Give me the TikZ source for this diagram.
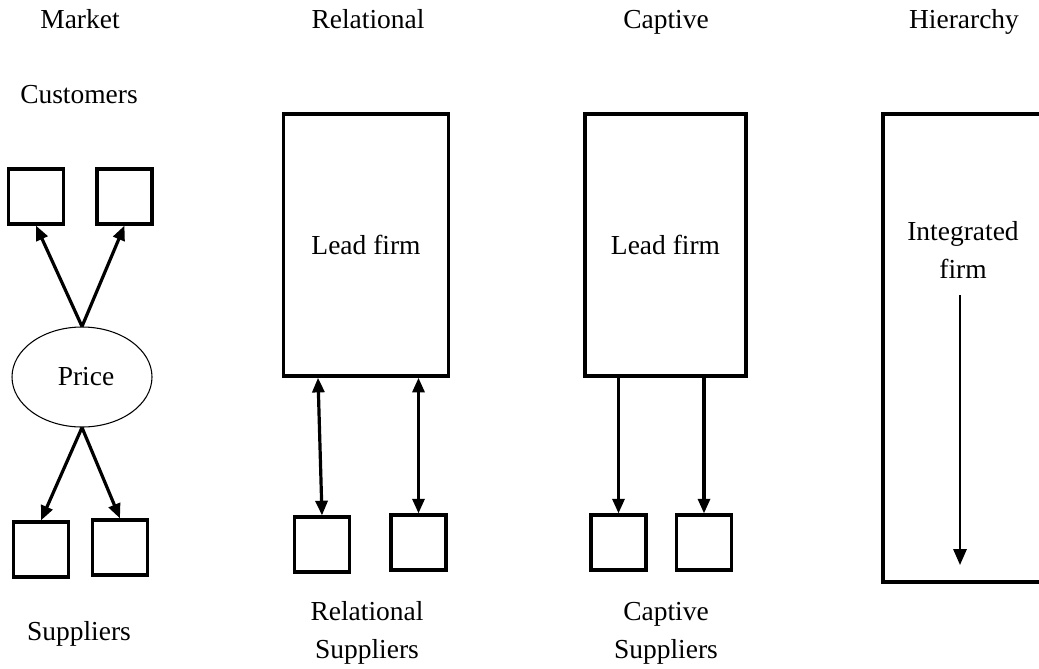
\documentclass[tikz,border=0pt]{standalone}
\usepackage{fontspec}
\setmainfont{Liberation Serif}
\usepackage{tikz}
\usetikzlibrary{arrows.meta}
\usetikzlibrary{positioning, shapes.geometric}

\tikzset{
  every node/.style={font=\fontsize{20.6}{25}\selectfont},
  smallbox/.style={draw, line width=2.6pt, minimum size=41pt, inner sep=0pt},
  firmbox/.style={draw, line width=2.6pt, minimum width=124pt, minimum height=196.5pt, inner sep=0pt},
  pricebubble/.style={ellipse, draw, line width=0.8pt, minimum width=105pt, minimum height=75pt},
  arr/.style={line width=2.4pt, -{Triangle[length=11pt,width=9pt]}},
  dblarr/.style={line width=2.4pt, {Triangle[length=11pt,width=9pt]}-{Triangle[length=11pt,width=9pt]}},
  twoline/.style={align=center, font=\fontsize{20.6}{28.5}\selectfont, anchor=base}
}

\begin{document}
\begin{tikzpicture}[x=0.75pt, y=-0.75pt]
    \clip (0,0) rectangle (1039,668);

    % column headings
    \node[anchor=base] (hmarket) at (80,28.5) {Market};
    \node[anchor=base] (hrel) at (368,28.5) {Relational};
    \node[anchor=base] (hcapt) at (666,28.5) {Captive};
    \node[anchor=base] (hhier) at (964,28.5) {Hierarchy};

    % market
    \node[anchor=base] (customers) at (79,103) {Customers};
    \node[smallbox] (cust1) at (36,196.5) {};
    \node[smallbox] (cust2) at (124.5,196.5) {};
    \node[pricebubble] (price) at (82,377) {\hspace*{6pt}Price};
    \node[smallbox] (sup1) at (41,549.5) {};
    \node[smallbox] (sup2) at (120,547.5) {};
    \node[anchor=base] (suppliers) at (79,640) {Suppliers};

    \draw[arr] (price.north) -- (cust1.south);
    \draw[arr] (price.north) -- (cust2.south);
    \draw[arr] (price.south) -- (sup1.north);
    \draw[arr] (price.south) -- (sup2.north);

    % relational
    \node[firmbox] (lead1) at (366,245) {Lead firm};
    \node[smallbox] (rsup1) at (322,544.5) {};
    \node[smallbox] (rsup2) at (418.5,542.5) {};
    \node[twoline] (rsuppliers) at (367,658) {Relational\\Suppliers};

    \draw[dblarr] (rsup1.north) -- ([xshift=-3pt]rsup1.north |- lead1.south);
    \draw[dblarr] (rsup2.north) -- (rsup2.north |- lead1.south);

    % captive
    \node[firmbox, minimum width=121pt] (lead2) at (665.5,245) {Lead firm};
    \node[smallbox] (csup1) at (618.5,542.5) {};
    \node[smallbox] (csup2) at (704,542.5) {};
    \node[twoline] (csuppliers) at (666,658) {Captive\\Suppliers};

    \draw[arr] (csup1.north |- lead2.south) -- (csup1.north);
    \draw[arr] (csup2.north |- lead2.south) -- (csup2.north);

    % hierarchy
    \node[firmbox, minimum width=121.5pt, minimum height=351pt] (integ) at (964,348) {};
    \node[twoline] (integtext) at (963,278) {Integrated\\firm};
    \coordinate (flowtop) at (960,295);
    \coordinate (flowend) at (960,565);
    \draw[line width=1.6pt, -{Triangle[length=12pt,width=10pt]}] (flowtop) -- (flowend);
\end{tikzpicture}
\end{document}
